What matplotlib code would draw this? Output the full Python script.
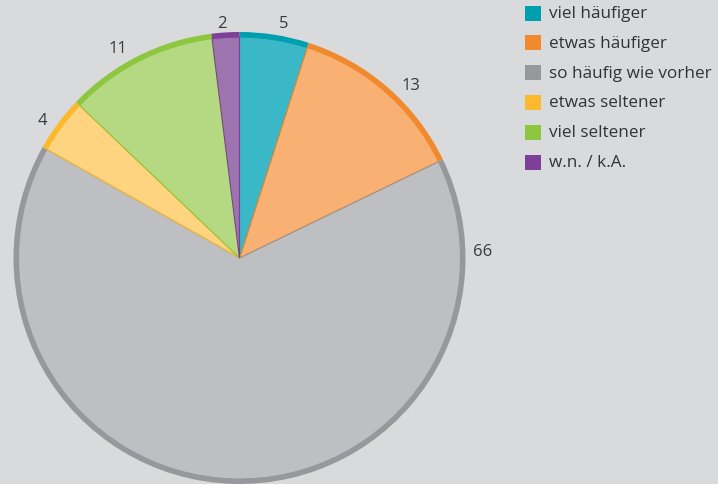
import matplotlib
matplotlib.use("Agg")
import matplotlib.pyplot as plt
from matplotlib.patches import Rectangle
from matplotlib.transforms import ScaledTranslation
import numpy as np

categories = ["viel häufiger", "etwas häufiger", "so häufig wie vorher",
              "etwas seltener", "viel seltener", "w.n. / k.A."]
values = [5, 13, 66, 4, 11, 2]
fill_colors = ["#3bb8c8", "#f9b073", "#bebfc3", "#fed481", "#b5d982", "#9d73b0"]
edge_colors = ["#009fb0", "#f18a2e", "#97989b", "#fbb92e", "#8dc63f", "#7d3f98"]
# where along each wedge (0..1) its value label sits, and at what radius
label_frac = [0.595, 0.574, 0.101, 0.413, 0.418, 0.41]
label_rad = [1.067, 1.084, 1.078, 1.071, 1.08, 1.051]

bg = "#d9dadb"
plt.rcParams['font.family'] = ['Open Sans', 'DejaVu Sans']

W, H = 718, 485
fig = plt.figure(figsize=(W / 100, H / 100), dpi=100, facecolor=bg)

cx, cy, R = 239.5, 259, 226
ax = fig.add_axes([(cx - R) / W, (H - cy - R) / H, 2 * R / W, 2 * R / H])
ax.set_facecolor(bg)
ax.axis("off")

# outer darker band
ax.pie(values, colors=edge_colors, startangle=90, counterclock=False, radius=1,
       wedgeprops=dict(linewidth=0, edgecolor="none"))
# inner lighter fill
inner = 1 - 5.0 / R
wedges, _ = ax.pie(values, colors=fill_colors, startangle=90, counterclock=False,
                   radius=inner, wedgeprops=dict(linewidth=0, edgecolor="none"))
# thin slice separators in darker color
seps, _ = ax.pie(values, colors=["none"] * len(values), startangle=90, counterclock=False,
                 radius=inner, wedgeprops=dict(linewidth=0.8, fill=False))
for w, ec in zip(seps, edge_colors):
    w.set_edgecolor(ec)

# value labels (baseline shifted so digits are visually centred)
fs = 12
shift = ScaledTranslation(0, -0.357 * fs / 72, fig.dpi_scale_trans)
for w, v, f, r in zip(wedges, values, label_frac, label_rad):
    t1, t2 = w.theta1, w.theta2
    ang = np.deg2rad(t2 - f * (t2 - t1))
    ax.text(r * np.cos(ang), r * np.sin(ang), str(v), ha="center", va="baseline",
            fontsize=fs, color="#3a3a3a", clip_on=False,
            transform=ax.transData + shift)

ax.set_xlim(-1, 1)
ax.set_ylim(-1, 1)
ax.set_aspect("equal")

# legend drawn manually
y0, dy = 14, 29.8
for i, (lab, c) in enumerate(zip(categories, edge_colors)):
    yc = y0 + i * dy
    fig.patches.append(Rectangle((525 / W, 1 - (yc + 7.5) / H), 16 / W, 15 / H,
                                 transform=fig.transFigure, facecolor=c, edgecolor="none"))
    fig.text(549 / W, 1 - yc / H, lab, ha="left", va="center", fontsize=12.3,
             color="#333333")

fig.savefig("out.png", dpi=100, facecolor=bg)
